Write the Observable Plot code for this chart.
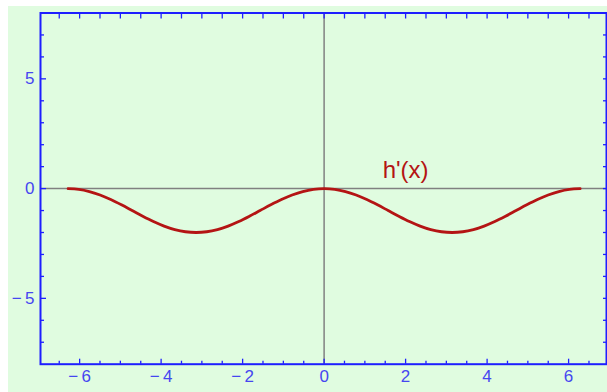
<!DOCTYPE html>
<html>
<head>
<meta charset="utf-8">
<script src="https://cdn.jsdelivr.net/npm/d3@7"></script>
<script src="https://cdn.jsdelivr.net/npm/@observablehq/plot@0.6"></script>
<style>
  html, body { margin: 0; padding: 0; background: #ffffff; width: 607px; height: 392px; overflow: hidden; }
  #chart svg { display: block; margin-left: 8px; margin-top: 6px; }
</style>
</head>
<body>
<div id="chart"></div>
<script>
// Curve h'(x)
const xValues = [-6.283,-6.021,-5.760,-5.498,-5.236,-4.974,-4.712,-4.451,-4.189,-3.927,-3.665,-3.403,-3.142,-2.880,-2.618,-2.356,-2.094,-1.833,-1.571,-1.309,-1.047,-0.785,-0.524,-0.262,0,0.262,0.524,0.785,1.047,1.309,1.571,1.833,2.094,2.356,2.618,2.880,3.142,3.403,3.665,3.927,4.189,4.451,4.712,4.974,5.236,5.498,5.760,6.021,6.283];
const yValues = [0,-0.034,-0.134,-0.293,-0.5,-0.741,-1,-1.259,-1.5,-1.707,-1.866,-1.966,-2,-1.966,-1.866,-1.707,-1.5,-1.259,-1,-0.741,-0.5,-0.293,-0.134,-0.034,0,-0.034,-0.134,-0.293,-0.5,-0.741,-1,-1.259,-1.5,-1.707,-1.866,-1.966,-2,-1.966,-1.866,-1.707,-1.5,-1.259,-1,-0.741,-0.5,-0.293,-0.134,-0.034,0];

// Ticks
const xMajorTicks = [-6,-4,-2,0,2,4,6];
const xMinorTicks = [-6.5,-5.5,-5,-4.5,-3.5,-3,-2.5,-1.5,-1,-0.5,0.5,1,1.5,2.5,3,3.5,4.5,5,5.5,6.5];
const yMajorTicks = [-5,0,5];
const yMinorTicks = [-7,-6,-4,-3,-2,-1,1,2,3,4,6,7];

// Label
const curveLabel = [{x: 2.0, y: 0.85, text: "h'(x)"}];

const curve = xValues.map((x, i) => ({x, y: yValues[i]}));

const frameBlue = "#1e1eff";
const labelBlue = "#4646f0";
const curveRed = "#b41414";
const fmt = d => d < 0 ? "\u2212\u2009" + Math.abs(d) : String(d);

const chart = Plot.plot({
  width: 599,
  height: 386,
  marginLeft: 32,
  marginRight: 1,
  marginTop: 6.5,
  marginBottom: 28.3,
  x: {domain: [-6.96, 6.93], label: null},
  y: {domain: [-8, 8], label: null},
  style: {background: "#e0fce0", fontFamily: "'Liberation Sans', Arial, sans-serif", fontSize: "17px", overflow: "visible"},
  marks: [
    Plot.ruleY([0], {stroke: "#808080", strokeWidth: 1.5}),
    Plot.ruleX([0], {stroke: "#808080", strokeWidth: 1.5}),
    Plot.line(curve, {x: "x", y: "y", stroke: curveRed, strokeWidth: 2.8, curve: "catmull-rom"}),
    Plot.text(curveLabel, {x: "x", y: "y", text: "text", fill: curveRed, fontSize: 24, textAnchor: "middle"}),
    // tick labels
    Plot.axisX(xMajorTicks, {anchor: "bottom", label: null, tickSize: 0, tickPadding: 6, tickFormat: fmt, fill: labelBlue, stroke: "none", fontSize: 17}),
    Plot.axisY(yMajorTicks, {anchor: "left", label: null, tickSize: 0, tickPadding: 6, tickFormat: fmt, fill: labelBlue, stroke: "none", fontSize: 17}),
    // inward ticks
    Plot.axisX(xMajorTicks, {anchor: "bottom", label: null, tickSize: -5, fill: "none", stroke: frameBlue, strokeWidth: 1.3}),
    Plot.axisX(xMinorTicks, {anchor: "bottom", label: null, tickSize: -3, fill: "none", stroke: frameBlue, strokeWidth: 1.3}),
    Plot.axisX(xMajorTicks.concat(xMinorTicks), {anchor: "top", label: null, tickSize: -5, fill: "none", stroke: frameBlue, strokeWidth: 1.3}),
    Plot.axisY(yMajorTicks, {anchor: "left", label: null, tickSize: -6, fill: "none", stroke: frameBlue, strokeWidth: 1.3}),
    Plot.axisY(yMinorTicks, {anchor: "left", label: null, tickSize: -4, fill: "none", stroke: frameBlue, strokeWidth: 1.3}),
    Plot.axisY(yMajorTicks.concat(yMinorTicks), {anchor: "right", label: null, tickSize: -4, fill: "none", stroke: frameBlue, strokeWidth: 1.3}),
    Plot.frame({stroke: frameBlue, strokeWidth: 2})
  ]
});
document.getElementById("chart").appendChild(chart);
</script>
</body>
</html>
